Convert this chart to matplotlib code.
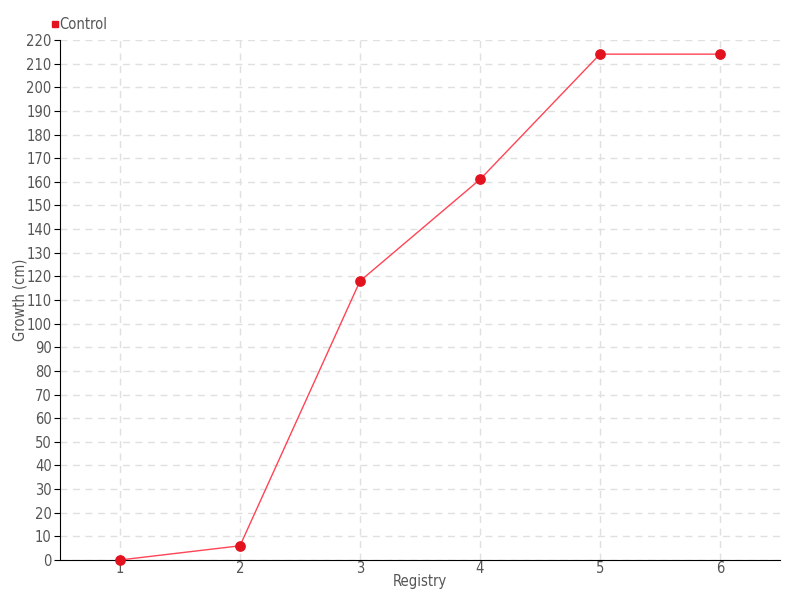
import matplotlib
matplotlib.use("Agg")
import matplotlib.pyplot as plt
from matplotlib.lines import Line2D

plt.rcParams['font.family'] = ['DejaVu Sans']
plt.rcParams['font.stretch'] = 'condensed'

registry = [1, 2, 3, 4, 5, 6]
growth = [0, 6, 118, 161, 214, 214]
series_name = "Control"

fig = plt.figure(figsize=(8, 6), dpi=100)
ax = fig.add_axes([0.075, 0.0667, 0.9, 0.8667])

ax.plot(registry, growth, color="#ff4455", linewidth=1, zorder=3)
ax.scatter(registry, growth, s=45, color="#e3121f", zorder=4, clip_on=False)

ax.set_xlim(0.5, 6.5)
ax.set_ylim(0, 220)
ax.set_xticks(registry)
ax.set_yticks(range(0, 221, 10))

ax.grid(True, color="#e0e0e0", linestyle=(0, (5, 4)), linewidth=1)
ax.set_axisbelow(True)
for s in ["top", "right"]:
    ax.spines[s].set_visible(False)
ax.spines["left"].set_color("black")
ax.spines["bottom"].set_color("black")
ax.tick_params(colors="black", labelsize=10.5, length=4, pad=2)
ax.tick_params(axis="x", length=0, pad=1)
ax.tick_params(axis="both", labelcolor="#555555")

ax.set_xlabel("Registry", color="#555555", fontsize=10.5, labelpad=-2)
ax.set_ylabel("Growth (cm)", color="#555555", fontsize=10.5, labelpad=-1)

handle = Line2D([], [], marker="s", linestyle="none", color="#e3121f", markersize=4)
fig.legend([handle], [series_name], loc="upper left", bbox_to_anchor=(0.045, 0.993),
           frameon=False, handletextpad=-0.1, fontsize=10.5, labelcolor="#555555",
           handlelength=0.8)

fig.savefig("out.png", dpi=100)
